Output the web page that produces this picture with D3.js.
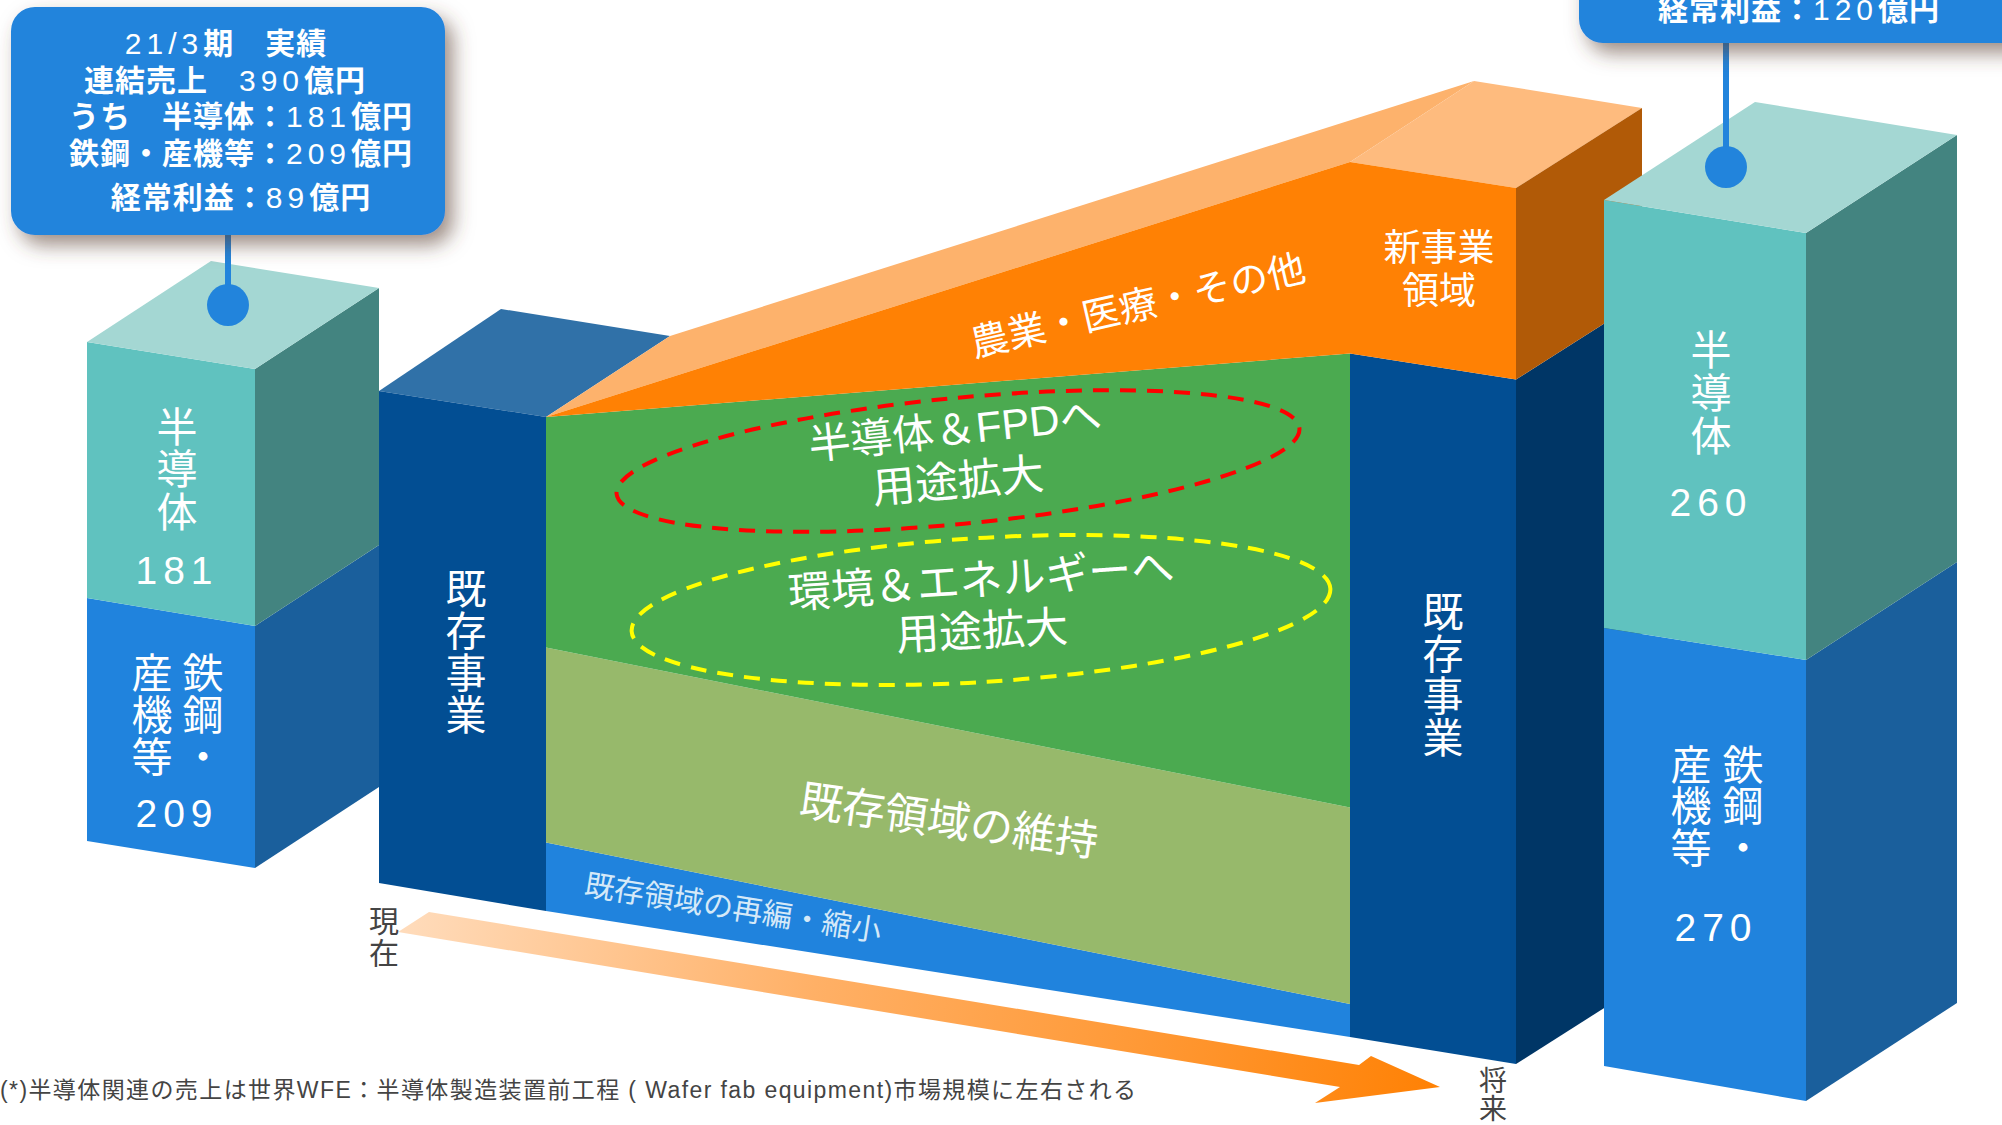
<!DOCTYPE html>
<html>
<head>
<meta charset="utf-8">
<script src="https://cdn.jsdelivr.net/npm/d3@7"></script>
<style>
  html, body { margin: 0; background: #fff; overflow: hidden; }
  text { font-family: "Liberation Sans", "Noto Sans CJK JP", sans-serif; }
</style>
</head>
<body>
<svg id="chart"></svg>
<script>
// 値（億円）
const stackNames = ['鉄鋼・産機等', '半導体'];
const actualValues = [209, 181];
const planValues = [270, 260];

// 中央の帯（現在 / 将来）は絵から読み取った推定値
const bandNames = ['再編縮小', '維持', '用途拡大', '新事業'];
const bandNow = [54, 154, 182, 0];
const bandFuture = [20, 119, 275, 116];

const actualLines = ['21/3期　実績', '連結売上　390億円', 'うち　半導体：181億円', '鉄鋼・産機等：209億円', '経常利益：89億円'];
const planLines = ['経常利益：120億円'];

const [width, height] = [2002, 1125];

const svg = d3.select('#chart').attr('width', width).attr('height', height);
const defs = svg.append('defs');

const shadow = defs.append('filter').attr('id', 'shadow')
  .attr('x', '-10%').attr('y', '-20%').attr('width', '125%').attr('height', '150%');
shadow.append('feDropShadow')
  .attr('dx', 8).attr('dy', 10).attr('stdDeviation', 10)
  .attr('flood-color', '#5a4030').attr('flood-opacity', 0.6);

const grad = defs.append('linearGradient').attr('id', 'arrowGrad')
  .attr('gradientUnits', 'userSpaceOnUse')
  .attr('x1', 398).attr('y1', 920).attr('x2', 1440).attr('y2', 1087);
grad.append('stop').attr('offset', 0).attr('stop-color', '#ffdcbc');
grad.append('stop').attr('offset', 0.4).attr('stop-color', '#ffb066');
grad.append('stop').attr('offset', 0.7).attr('stop-color', '#ff9a38');
grad.append('stop').attr('offset', 1).attr('stop-color', '#ff8104');

const poly = d3.line();
function face(pts, fill) {
  return svg.append('path').attr('d', poly(pts) + 'Z').attr('fill', fill);
}

// 積み上げ棒（左右）
function drawBar(values, xl, xr, rangeL, rangeR, dx, dy) {
  const total = d3.sum(values);
  const domain = [0, values[0], total];
  const yL = d3.scaleLinear().domain(domain).range(rangeL);
  const yR = d3.scaleLinear().domain(domain).range(rangeR);
  const colors = [['#2083dd', '#1a5f9c'], ['#60c2bf', '#438480']];
  let base = 0;
  values.forEach((v, i) => {
    const top = base + v;
    face([[xr, yR(base)], [xr + dx, yR(base) + dy], [xr + dx, yR(top) + dy], [xr, yR(top)]], colors[i][1]);
    face([[xl, yL(base)], [xr, yR(base)], [xr, yR(top)], [xl, yL(top)]], colors[i][0]);
    base = top;
  });
  face([[xl, yL(total)], [xr, yR(total)], [xr + dx, yR(total) + dy], [xl + dx, yL(total) + dy]], '#a4d7d3');
}

drawBar(actualValues, 87, 255, [841, 598, 342], [868, 626, 369], 124, -81);

// 中央のスケール
const x = d3.scaleLinear().domain([0, 1]).range([546, 1350]);
const yNow = d3.scaleLinear().domain([0, d3.sum(bandNow)]).range([911, 417]);
const yFuture = d3.scaleLinear().domain([0, d3.sum(bandFuture)]).range([1037, 162]);
const yAt = [yNow, yFuture];

const rows = [bandNow, bandFuture].map(vals => {
  const r = {};
  bandNames.forEach((n, i) => { r[n] = vals[i]; });
  return r;
});
const layers = d3.stack().keys(bandNames)(rows);
const bandColors = ['#2083dd', '#97b96b', '#4baa50', '#ff8104'];

const area = d3.area()
  .x((d, i) => x(i))
  .y0((d, i) => yAt[i](d[0]))
  .y1((d, i) => yAt[i](d[1]));

// 既存事業ブロック（左）
const depth = [124, -81];
const nowBase = yNow(0), nowTop = yNow(d3.sum(bandNow));
face([[379, 391], [379 + depth[0] - 2, 391 + depth[1] - 1], [x(0) + depth[0], nowTop + depth[1]], [x(0), nowTop]], '#3071a8');
face([[379, 883], [x(0), nowBase], [x(0), nowTop], [379, 391]], '#024e93');

// 新事業の上面
const fTop = yFuture(d3.sum(bandFuture));
const blockR = 1516;
face([[x(0), nowTop], [x(0) + depth[0], nowTop + depth[1]], [x(1) + depth[0], fTop + depth[1]], [x(1), fTop]], '#fdb26c');
face([[x(1), fTop], [x(1) + depth[0], fTop + depth[1]], [blockR + 126, fTop + 26 - 80], [blockR, fTop + 26]], '#febb7e');

// 帯
svg.append('g').selectAll('path').data(layers).enter().append('path')
  .attr('d', area)
  .attr('fill', (d, i) => bandColors[i]);

// 右ブロック
const existing = d3.sum(bandFuture.slice(0, 3));
const fBase = yFuture(0), fExisting = yFuture(existing);
face([[blockR, fBase + 27], [blockR + 126, fBase + 27 - 80], [blockR + 126, fExisting + 26 - 80], [blockR, fExisting + 26]], '#003666');
face([[blockR, fExisting + 26], [blockR + 126, fExisting + 26 - 80], [blockR + 126, fTop + 26 - 80], [blockR, fTop + 26]], '#b15a07');
face([[x(1), fBase], [blockR, fBase + 27], [blockR, fExisting + 26], [x(1), fExisting]], '#024e93');
face([[x(1), fExisting], [blockR, fExisting + 26], [blockR, fTop + 26], [x(1), fTop]], '#ff8104');

drawBar(planValues, 1604, 1806, [1066, 628, 200], [1101, 660, 233], 151, -98);

// 破線の楕円
[[958, 461, 343, 63, -5.5, '#ff0000'], [981, 610, 350, 72, -3.5, '#ffff00']].forEach(e => {
  svg.append('ellipse')
    .attr('cx', 0).attr('cy', 0).attr('rx', e[2]).attr('ry', e[3])
    .attr('transform', `translate(${e[0]},${e[1]}) rotate(${e[4]})`)
    .attr('fill', 'none').attr('stroke', e[5])
    .attr('stroke-width', 4).attr('stroke-dasharray', '16 11');
});

// 矢印
face([[398, 932], [429, 912], [1359, 1065], [1371, 1056], [1440, 1087], [1315, 1103], [1340, 1087]], 'url(#arrowGrad)');

// ラベル
function label(str, cx, cy, size, opts) {
  const o = opts || {};
  return svg.append('text')
    .attr('transform', `translate(${cx},${cy}) rotate(${o.rotate || 0})`)
    .attr('text-anchor', o.anchor || 'middle')
    .attr('dominant-baseline', 'central')
    .attr('font-size', size)
    .attr('letter-spacing', o.spacing || 0)
    .attr('fill', o.fill || '#fff')
    .text(str);
}
function vertical(str, cx, ys, size, opts) {
  Array.from(str).forEach((c, i) => label(c, cx, ys[i], size, opts));
}

vertical(stackNames[1], 177, [428, 470, 513], 41);
label(String(actualValues[1]), 177, 570, 39, { spacing: 6 });
vertical('鉄鋼・', 203, [674, 716, 758], 41);
vertical('産機等', 152, [674, 716, 758], 41);
label(String(actualValues[0]), 177, 813, 39, { spacing: 6 });

vertical('既存事業', 466, [590, 632, 674, 716], 41);
vertical('既存事業', 1443, [613, 655, 697, 739], 41);
label('新事業', 1439, 248, 37);
label('領域', 1439, 291, 37);

vertical(stackNames[1], 1711, [351, 394, 437], 41);
label(String(planValues[1]), 1711, 502, 39, { spacing: 6 });
vertical('鉄鋼・', 1743, [766, 807, 849], 41);
vertical('産機等', 1691, [766, 807, 849], 41);
label(String(planValues[0]), 1716, 927, 39, { spacing: 6 });

label('農業・医療・その他', 1138, 306, 38, { rotate: -13 });
label('半導体＆FPDへ', 955, 430, 42, { rotate: -6 });
label('用途拡大', 958, 481, 43, { rotate: -5 });
label('環境＆エネルギーへ', 981, 580, 43, { rotate: -4 });
label('用途拡大', 982, 631, 43, { rotate: -3 });
label('既存領域の維持', 949, 821, 43, { rotate: 8 });
label('既存領域の再編・縮小', 733, 908, 30, { rotate: 9, fill: '#d5e9f8' });

vertical('現在', 384, [921, 953], 30, { fill: '#444' });
vertical('将来', 1493, [1081, 1109], 28, { fill: '#444' });
label('(*)半導体関連の売上は世界WFE：半導体製造装置前工程 ( Wafer fab equipment)市場規模に左右される', 0, 1090, 23, { anchor: 'start', fill: '#444', spacing: 1.4 });

// 吹き出し
function callout(bx, by, bw, bh, cx, cy, lines, centers, xs) {
  svg.append('line').attr('x1', cx).attr('x2', cx).attr('y1', by + bh - 2).attr('y2', cy)
    .attr('stroke', '#2284dc').attr('stroke-width', 6);
  svg.append('circle').attr('cx', cx).attr('cy', cy).attr('r', 21).attr('fill', '#2284dc');
  svg.append('rect').attr('x', bx).attr('y', by).attr('width', bw).attr('height', bh)
    .attr('rx', 24).attr('fill', '#2284dc').attr('filter', 'url(#shadow)');
  lines.forEach((line, i) => {
    const t = svg.append('text')
      .attr('x', xs[i]).attr('y', centers[i])
      .attr('text-anchor', 'middle').attr('dominant-baseline', 'central')
      .attr('font-size', 30).attr('letter-spacing', 1).attr('fill', '#fff');
    // 数字は細字、和文は太字
    line.split(/([0-9\/]+)/).filter(s => s).forEach(s => {
      const digits = /^[0-9\/]+$/.test(s);
      t.append('tspan')
        .attr('font-weight', digits ? 400 : 700)
        .attr('letter-spacing', digits ? 5 : 1)
        .text(s);
    });
  });
}
callout(11, 7, 434, 228, 228, 305, actualLines, [43, 80, 116, 153, 197], [226, 225, 241, 241, 241]);
callout(1579, -180, 500, 223, 1726, 167, planLines, [9], [1799]);
</script>
</body>
</html>
